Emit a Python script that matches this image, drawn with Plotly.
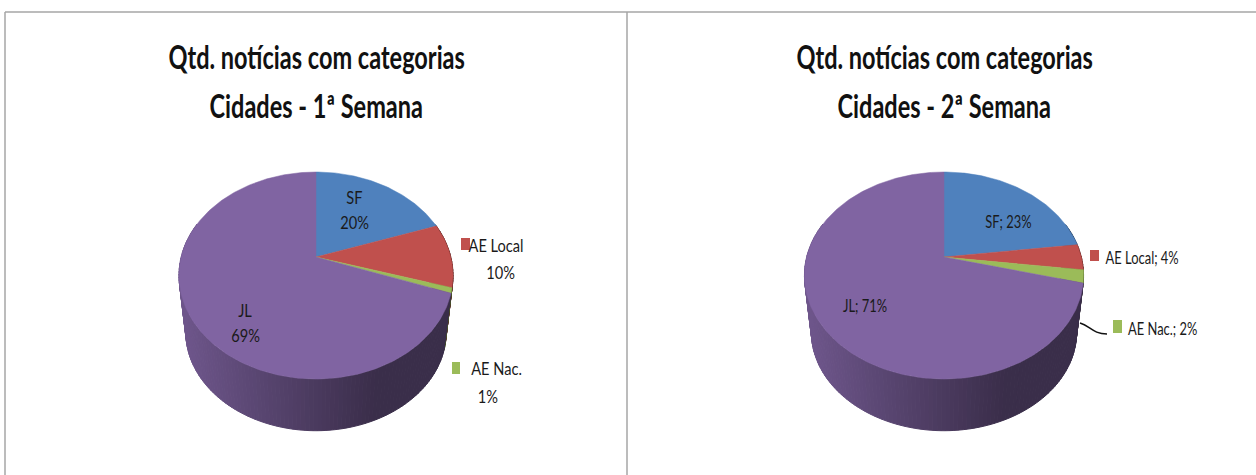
import math
import plotly.graph_objects as go

categories = ["SF", "AE Local", "AE Nac.", "JL"]
colors = ["#4f81bd", "#c0504d", "#9bbb59", "#8064a2"]

# percentages as the slices look, the labels round them
week1_values = [19.7, 10.0, 0.8, 69.49]
week2_values = [23.0, 4.0, 2.0, 71.0]

title_line1 = "Qtd. notícias com categorias"
title_week1 = "Cidades - 1ª Semana"
title_week2 = "Cidades - 2ª Semana"

TITLE_FONT = dict(family="Lato", size=32, color="#111111", weight="bold")
LABEL_FONT = dict(family="Lato", size=17, color="#1a1a1a")

# the reference text is squeezed sideways, no condensed font is installed
SQUEEZE_TEXT = """
document.body.style.margin = '0';
document.querySelectorAll('.annotation-text').forEach(function (t) {
    var b = t.getBBox();
    var c = b.x + b.width / 2;
    var s = 0.86;
    if (parseFloat(t.style.fontSize) > 20) { s = 0.735; }
    else if (t.textContent.indexOf(';') >= 0) { s = 0.76; }
    t.setAttribute('transform', 'translate(' + c + ' 0) scale(' + s + ' 1) translate(' + (-c) + ' 0)');
});
"""

# the 3d look: perspective on the top face, smaller face underneath
CY = 257
RY = 100.2
K = 0.1788
SHRINK = 0.95
DROP = 57.8


def project(theta, cx, rx, shrink=1.0, drop=0.0):
    u = math.sin(math.radians(theta))
    v = math.cos(math.radians(theta))
    s = 1 / (1 + K * v)
    return cx + rx * u * s * shrink, CY - RY * v * s * shrink + drop


def shade(hex_color, x_rel):
    # x_rel 0 = left edge of the wall, 1 = right edge
    t = min(max(x_rel / 0.72, 0), 1)
    f = 0.86 + (0.46 - 0.86) * t
    r, g, b = [int(hex_color[i:i + 2], 16) for i in (1, 3, 5)]
    return f"rgb({int(r * f)},{int(g * f)},{int(b * f)})"


def slice_at(theta, values):
    total = sum(values)
    acc = 0
    for i, val in enumerate(values):
        acc += val / total * 360
        if theta <= acc:
            return i
    return len(values) - 1


def add_pie(fig, values, cx, rx):
    # wall first, the face covers the back part of it
    step = 1.5
    theta = 70.0
    while theta < 290:
        x0, y0 = project(theta, cx, rx)
        x1, y1 = project(theta + step, cx, rx)
        x2, y2 = project(theta + step, cx, rx, SHRINK, DROP)
        x3, y3 = project(theta, cx, rx, SHRINK, DROP)
        rel = ((x0 + x1) / 2 - (cx - rx)) / (2 * rx)
        col = shade(colors[slice_at(theta + step / 2, values)], rel)
        fig.add_trace(go.Scatter(
            x=[x0, x1, x2, x3, x0], y=[y0, y1, y2, y3, y0],
            mode="lines", fill="toself", fillcolor=col,
            line=dict(color=col, width=1), hoverinfo="skip", showlegend=False,
        ))
        theta += step

    total = sum(values)
    start = 0.0
    for name, val, col in zip(categories, values, colors):
        end = start + val / total * 360
        n = max(int(end - start), 2)
        arc = [project(start + (end - start) * i / n, cx, rx) for i in range(n + 1)]
        xs = [cx] + [p[0] for p in arc] + [cx]
        ys = [CY] + [p[1] for p in arc] + [CY]
        fig.add_trace(go.Scatter(
            x=xs, y=ys, mode="lines", fill="toself", fillcolor=col,
            line=dict(color=col, width=0.5), name=name, hoverinfo="name", showlegend=False,
        ))
        start = end


def label(fig, text, x, y, font=LABEL_FONT):
    fig.add_annotation(x=x, y=y, text=text, showarrow=False, font=font,
                       xanchor="center", yanchor="middle")


def key(fig, color, x0, x1, y0, y1):
    fig.add_shape(type="rect", x0=x0, x1=x1, y0=y0, y1=y1,
                  fillcolor=color, line=dict(width=0))


def pct(v):
    return f"{round(v)}%"


fig = go.Figure()
add_pie(fig, week1_values, 316, 134.8)
add_pie(fig, week2_values, 944, 137.3)

# frame of the two charts
for x0, y0, x1, y1 in [(5, 12, 1256, 12), (5, 12, 5, 475), (627, 12, 627, 475)]:
    fig.add_shape(type="line", x0=x0, y0=y0, x1=x1, y1=y1,
                  line=dict(color="#a6a6a6", width=1.5))

label(fig, title_line1, 316, 56, TITLE_FONT)
label(fig, title_week1, 316, 105, TITLE_FONT)
label(fig, title_line1, 944, 56, TITLE_FONT)
label(fig, title_week2, 944, 105, TITLE_FONT)

# week 1 labels
label(fig, categories[0], 354, 197)
label(fig, pct(week1_values[0]), 354, 222)
label(fig, categories[1], 496, 245)
label(fig, pct(week1_values[1]), 500, 272)
label(fig, categories[2], 496, 368)
label(fig, pct(week1_values[2]), 488, 396)
label(fig, categories[3], 245, 310)
label(fig, pct(week1_values[3]), 245, 335)
key(fig, colors[1], 461, 470, 238, 250)
key(fig, colors[2], 452, 460, 362, 374)

# week 2 labels
label(fig, f"{categories[0]}; {pct(week2_values[0])}", 1008, 221)
label(fig, f"{categories[1]}; {pct(week2_values[1])}", 1142, 257)
label(fig, f"{categories[2]}; {pct(week2_values[2])}", 1162, 328)
label(fig, f"{categories[3]}; {pct(week2_values[3])}", 865, 305)
key(fig, colors[1], 1090, 1099, 250, 261)
key(fig, colors[2], 1113, 1122, 320, 333)
fig.add_shape(type="path", path="M 1080 323 C 1090 326, 1093 334, 1107 334",
              line=dict(color="#111111", width=1.5))

fig.update_layout(
    width=1256,
    height=475,
    margin=dict(l=0, r=0, t=0, b=0),
    plot_bgcolor="white",
    paper_bgcolor="white",
    xaxis=dict(visible=False, range=[0, 1256], fixedrange=True),
    yaxis=dict(visible=False, range=[475, 0], fixedrange=True),
)

fig.write_html("out.html", config=dict(displayModeBar=False), post_script=SQUEEZE_TEXT)
